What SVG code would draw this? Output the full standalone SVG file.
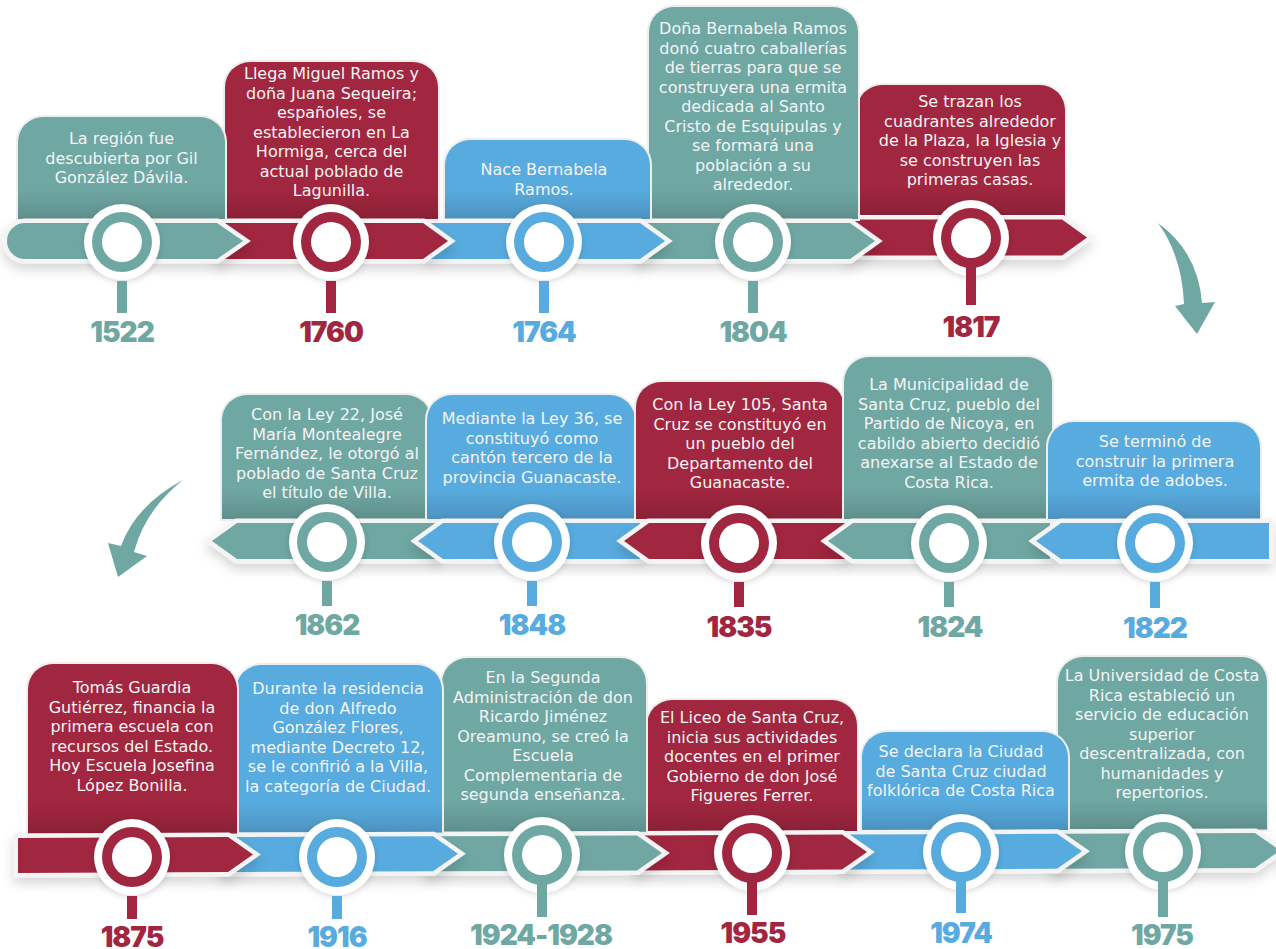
<svg xmlns="http://www.w3.org/2000/svg" width="1276" height="949" viewBox="0 0 1276 949">
<defs>
<style>
.teal{fill:#6FA7A3}
.crim{fill:#A1263F}
.blue{fill:#58ABDF}
.card{stroke:#EEEEEE;stroke-width:4;paint-order:stroke}
.bar{stroke:#F4F4F4;stroke-width:9;paint-order:stroke;stroke-linejoin:miter;filter:url(#barsh)}
.ring{fill:#FFFFFF;filter:url(#ringsh)}
.hole{fill:#FFFFFF}
.desc{font-family:"DejaVu Sans",Verdana,sans-serif;font-size:16px;fill:#F4F4F4;text-anchor:middle}
.year{font-family:Inter,"Liberation Sans",sans-serif;font-weight:900;font-size:28px;letter-spacing:-1px;text-anchor:middle}
.shade{fill:url(#shade)}
</style>
<linearGradient id="shade" x1="0" y1="0" x2="0" y2="1">
<stop offset="0" stop-color="#000" stop-opacity="0"/>
<stop offset="1" stop-color="#000" stop-opacity="0.14"/>
</linearGradient>
<filter id="barsh" x="-10%" y="-50%" width="120%" height="220%">
<feDropShadow dx="0" dy="6" stdDeviation="6" flood-color="#000" flood-opacity="0.16"/>
</filter>
<filter id="ringsh" x="-50%" y="-50%" width="200%" height="200%">
<feDropShadow dx="0" dy="2" stdDeviation="3" flood-color="#000" flood-opacity="0.15"/>
</filter>
</defs>
<rect width="1276" height="949" fill="#FFFFFF"/>

<!-- Row 1 (drawn latest first) -->
<g id="n1817">
<path class="card crim" d="M857,215.5 V110 A25,25 0 0 1 882,85 H1040 A25,25 0 0 1 1065,110 V215.5 Z"/>
<rect class="shade" x="857" y="186" width="208" height="30"/>
<text class="desc"><tspan x="970" y="107">Se trazan los</tspan><tspan x="970" y="126.5">cuadrantes alrededor</tspan><tspan x="970" y="146">de la Plaza, la Iglesia y</tspan><tspan x="970" y="165.5">se construyen las</tspan><tspan x="970" y="185">primeras casas.</tspan></text>
<path class="bar crim" d="M850,219.5 H1062 L1087,237.5 L1062,255.5 H850 Z"/>
<circle class="ring" cx="971" cy="238" r="38"/>
<circle class="crim" cx="971" cy="238" r="30"/>
<circle class="hole" cx="971" cy="238" r="20"/>
<rect class="crim" x="966" y="266" width="10" height="39"/>
<text class="year crim" x="971" y="337">1817</text>
</g>
<g id="n1804">
<path class="card teal" d="M649,219 V32 A25,25 0 0 1 674,7 H833 A25,25 0 0 1 858,32 V219 Z"/>
<rect class="shade" x="649" y="189" width="209" height="30"/>
<text class="desc"><tspan x="753" y="34">Doña Bernabela Ramos</tspan><tspan x="753" y="53.5">donó cuatro caballerías</tspan><tspan x="753" y="73">de tierras para que se</tspan><tspan x="753" y="92.5">construyera una ermita</tspan><tspan x="753" y="112">dedicada al Santo</tspan><tspan x="753" y="131.5">Cristo de Esquipulas y</tspan><tspan x="753" y="151">se formará una</tspan><tspan x="753" y="170.5">población a su</tspan><tspan x="753" y="190">alrededor.</tspan></text>
<path class="bar teal" d="M640,223 H850 L875,241 L850,259 H640 Z"/>
<circle class="ring" cx="753" cy="242" r="38"/>
<circle class="teal" cx="753" cy="242" r="30"/>
<circle class="hole" cx="753" cy="242" r="20"/>
<rect class="teal" x="748" y="281" width="10" height="32"/>
<text class="year teal" x="753" y="342">1804</text>
</g>
<g id="n1764">
<path class="card blue" d="M445,219 V165 A25,25 0 0 1 470,140 H625 A25,25 0 0 1 650,165 V219 Z"/>
<rect class="shade" x="445" y="189" width="205" height="30"/>
<text class="desc"><tspan x="544" y="175">Nace Bernabela</tspan><tspan x="544" y="194.5">Ramos.</tspan></text>
<path class="bar blue" d="M430,223 H640 L665,241 L640,259 H430 Z"/>
<circle class="ring" cx="544" cy="242" r="38"/>
<circle class="blue" cx="544" cy="242" r="30"/>
<circle class="hole" cx="544" cy="242" r="20"/>
<rect class="blue" x="539" y="281" width="10" height="32"/>
<text class="year blue" x="544" y="342">1764</text>
</g>
<g id="n1760">
<path class="card crim" d="M225,219 V87 A25,25 0 0 1 250,62 H413 A25,25 0 0 1 438,87 V219 Z"/>
<rect class="shade" x="225" y="189" width="213" height="30"/>
<text class="desc"><tspan x="331.5" y="79">Llega Miguel Ramos y</tspan><tspan x="331.5" y="98.5">doña Juana Sequeira;</tspan><tspan x="331.5" y="118">españoles, se</tspan><tspan x="331.5" y="137.5">establecieron en La</tspan><tspan x="331.5" y="157">Hormiga, cerca del</tspan><tspan x="331.5" y="176.5">actual poblado de</tspan><tspan x="331.5" y="196">Lagunilla.</tspan></text>
<path class="bar crim" d="M220,223 H423 L448,241 L423,259 H220 Z"/>
<circle class="ring" cx="331" cy="242" r="38"/>
<circle class="crim" cx="331" cy="242" r="30"/>
<circle class="hole" cx="331" cy="242" r="20"/>
<rect class="crim" x="326" y="281" width="10" height="32"/>
<text class="year crim" x="331" y="342">1760</text>
</g>
<g id="n1522">
<path class="card teal" d="M18,219 V142 A25,25 0 0 1 43,117 H200 A25,25 0 0 1 225,142 V219 Z"/>
<rect class="shade" x="18" y="189" width="207" height="30"/>
<text class="desc"><tspan x="121.5" y="144">La región fue</tspan><tspan x="121.5" y="163.5">descubierta por Gil</tspan><tspan x="121.5" y="183">González Dávila.</tspan></text>
<path class="bar teal" d="M25,223 H217 L243,241 L217,259 H25 A18,18 0 0 1 25,223 Z"/>
<circle class="ring" cx="122" cy="242" r="38"/>
<circle class="teal" cx="122" cy="242" r="30"/>
<circle class="hole" cx="122" cy="242" r="20"/>
<rect class="teal" x="117" y="281" width="10" height="32"/>
<text class="year teal" x="122" y="342">1522</text>
</g>

<!-- Row 2 -->
<g id="n1862">
<path class="card teal" d="M222,519 V420 A25,25 0 0 1 247,395 H406 A25,25 0 0 1 431,420 V519 Z"/>
<rect class="shade" x="222" y="489" width="209" height="30"/>
<text class="desc"><tspan x="327" y="420">Con la Ley 22, José</tspan><tspan x="327" y="439.5">María Montealegre</tspan><tspan x="327" y="459">Fernández, le otorgó al</tspan><tspan x="327" y="478.5">poblado de Santa Cruz</tspan><tspan x="327" y="498">el título de Villa.</tspan></text>
<path class="bar teal" d="M212,541 L237,523 H436 V559 H237 Z"/>
<circle class="ring" cx="327" cy="542" r="38"/>
<circle class="teal" cx="327" cy="542" r="30"/>
<circle class="hole" cx="327" cy="542" r="20"/>
<rect class="teal" x="322" y="581" width="10" height="25"/>
<text class="year teal" x="327" y="635">1862</text>
</g>
<g id="n1848">
<path class="card blue" d="M427,519 V420 A25,25 0 0 1 452,395 H610 A25,25 0 0 1 635,420 V519 Z"/>
<rect class="shade" x="427" y="489" width="208" height="30"/>
<text class="desc"><tspan x="532" y="424">Mediante la Ley 36, se</tspan><tspan x="532" y="443.5">constituyó como</tspan><tspan x="532" y="463">cantón tercero de la</tspan><tspan x="532" y="482.5">provincia Guanacaste.</tspan></text>
<path class="bar blue" d="M418,541 L443,523 H640 V559 H443 Z"/>
<circle class="ring" cx="532" cy="542" r="38"/>
<circle class="blue" cx="532" cy="542" r="30"/>
<circle class="hole" cx="532" cy="542" r="20"/>
<rect class="blue" x="527" y="581" width="10" height="25"/>
<text class="year blue" x="532" y="635">1848</text>
</g>
<g id="n1835">
<path class="card crim" d="M636,519 V407 A25,25 0 0 1 661,382 H819 A25,25 0 0 1 844,407 V519 Z"/>
<rect class="shade" x="636" y="489" width="208" height="30"/>
<text class="desc"><tspan x="740" y="410">Con la Ley 105, Santa</tspan><tspan x="740" y="429.5">Cruz se constituyó en</tspan><tspan x="740" y="449">un pueblo del</tspan><tspan x="740" y="468.5">Departamento del</tspan><tspan x="740" y="488">Guanacaste.</tspan></text>
<path class="bar crim" d="M624,541 L649,523 H845 V559 H649 Z"/>
<circle class="ring" cx="739" cy="543" r="38"/>
<circle class="crim" cx="739" cy="543" r="30"/>
<circle class="hole" cx="739" cy="543" r="20"/>
<rect class="crim" x="734" y="582" width="10" height="25"/>
<text class="year crim" x="739" y="637">1835</text>
</g>
<g id="n1824">
<path class="card teal" d="M844,519 V382 A25,25 0 0 1 869,357 H1027 A25,25 0 0 1 1052,382 V519 Z"/>
<rect class="shade" x="844" y="489" width="208" height="30"/>
<text class="desc"><tspan x="949" y="390">La Municipalidad de</tspan><tspan x="949" y="409.5">Santa Cruz, pueblo del</tspan><tspan x="949" y="429">Partido de Nicoya, en</tspan><tspan x="949" y="448.5">cabildo abierto decidió</tspan><tspan x="949" y="468">anexarse al Estado de</tspan><tspan x="949" y="487.5">Costa Rica.</tspan></text>
<path class="bar teal" d="M828,541 L853,523 H1050 V559 H853 Z"/>
<circle class="ring" cx="949" cy="543" r="38"/>
<circle class="teal" cx="949" cy="543" r="30"/>
<circle class="hole" cx="949" cy="543" r="20"/>
<rect class="teal" x="944" y="582" width="10" height="25"/>
<text class="year teal" x="950" y="637">1824</text>
</g>
<g id="n1822">
<path class="card blue" d="M1048,519 V447 A25,25 0 0 1 1073,422 H1235 A25,25 0 0 1 1260,447 V519 Z"/>
<rect class="shade" x="1048" y="489" width="212" height="30"/>
<text class="desc"><tspan x="1155" y="447">Se terminó de</tspan><tspan x="1155" y="466.5">construir la primera</tspan><tspan x="1155" y="486">ermita de adobes.</tspan></text>
<path class="bar blue" d="M1036,541 L1061,523 H1269 V559 H1061 Z"/>
<circle class="ring" cx="1155" cy="543" r="38"/>
<circle class="blue" cx="1155" cy="543" r="30"/>
<circle class="hole" cx="1155" cy="543" r="20"/>
<rect class="blue" x="1150" y="582" width="10" height="26"/>
<text class="year blue" x="1155" y="638">1822</text>
</g>

<!-- Row 3 (drawn latest first) -->
<g id="n1975">
<path class="card teal" d="M1058,829.4 V682 A25,25 0 0 1 1083,657 H1242 A25,25 0 0 1 1267,682 V829.4 Z"/>
<rect class="shade" x="1058" y="799.4" width="209" height="30"/>
<text class="desc"><tspan x="1162" y="681">La Universidad de Costa</tspan><tspan x="1162" y="700.5">Rica estableció un</tspan><tspan x="1162" y="720">servicio de educación</tspan><tspan x="1162" y="739.5">superior</tspan><tspan x="1162" y="759">descentralizada, con</tspan><tspan x="1162" y="778.5">humanidades y</tspan><tspan x="1162" y="798">repertorios.</tspan></text>
<path class="bar teal" d="M1055,833.8 L1255,833 L1280,850.4 L1255,868 L1055,868.8 Z"/>
<circle class="ring" cx="1163" cy="852" r="38"/>
<circle class="teal" cx="1163" cy="852" r="30"/>
<circle class="hole" cx="1163" cy="852" r="20"/>
<rect class="teal" x="1158" y="880" width="10" height="37"/>
<text class="year teal" x="1162" y="945">1975</text>
</g>
<g id="n1974">
<path class="card blue" d="M862,830 V757 A25,25 0 0 1 887,732 H1043 A25,25 0 0 1 1068,757 V830 Z"/>
<rect class="shade" x="862" y="800" width="206" height="30"/>
<text class="desc"><tspan x="961" y="757">Se declara la Ciudad</tspan><tspan x="961" y="776.5">de Santa Cruz ciudad</tspan><tspan x="961" y="796">folklórica de Costa Rica</tspan></text>
<path class="bar blue" d="M845,834.6 L1057,833.8 L1082,851.2 L1057,868.8 L845,869.6 Z"/>
<circle class="ring" cx="961" cy="852" r="38"/>
<circle class="blue" cx="961" cy="852" r="30"/>
<circle class="hole" cx="961" cy="852" r="20"/>
<rect class="blue" x="956" y="880" width="10" height="33"/>
<text class="year blue" x="961" y="943">1974</text>
</g>
<g id="n1955">
<path class="card crim" d="M647,831 V725 A25,25 0 0 1 672,700 H832 A25,25 0 0 1 857,725 V831 Z"/>
<rect class="shade" x="647" y="801" width="210" height="30"/>
<text class="desc"><tspan x="752" y="723">El Liceo de Santa Cruz,</tspan><tspan x="752" y="742.5">inicia sus actividades</tspan><tspan x="752" y="762">docentes en el primer</tspan><tspan x="752" y="781.5">Gobierno de don José</tspan><tspan x="752" y="801">Figueres Ferrer.</tspan></text>
<path class="bar crim" d="M640,835.4 L842,834.6 L867,852 L842,869.6 L640,870.4 Z"/>
<circle class="ring" cx="752" cy="853" r="38"/>
<circle class="crim" cx="752" cy="853" r="30"/>
<circle class="hole" cx="752" cy="853" r="20"/>
<rect class="crim" x="747" y="881" width="10" height="34"/>
<text class="year crim" x="753" y="943">1955</text>
</g>
<g id="n1924">
<path class="card teal" d="M442,831.8 V683 A25,25 0 0 1 467,658 H621 A25,25 0 0 1 646,683 V831.8 Z"/>
<rect class="shade" x="442" y="801.8" width="204" height="30"/>
<text class="desc"><tspan x="543" y="683">En la Segunda</tspan><tspan x="543" y="702.5">Administración de don</tspan><tspan x="543" y="722">Ricardo Jiménez</tspan><tspan x="543" y="741.5">Oreamuno, se creó la</tspan><tspan x="543" y="761">Escuela</tspan><tspan x="543" y="780.5">Complementaria de</tspan><tspan x="543" y="800">segunda enseñanza.</tspan></text>
<path class="bar teal" d="M430,836.3 L637,835.5 L662,852.9 L637,870.5 L430,871.3 Z"/>
<circle class="ring" cx="542" cy="855" r="38"/>
<circle class="teal" cx="542" cy="855" r="30"/>
<circle class="hole" cx="542" cy="855" r="20"/>
<rect class="teal" x="537" y="883" width="10" height="34"/>
<text class="year teal" x="541" y="945">1924-1928</text>
</g>
<g id="n1916">
<path class="card blue" d="M236,832.6 V690 A25,25 0 0 1 261,665 H417 A25,25 0 0 1 442,690 V832.6 Z"/>
<rect class="shade" x="236" y="802.6" width="206" height="30"/>
<text class="desc"><tspan x="338" y="694">Durante la residencia</tspan><tspan x="338" y="713.5">de don Alfredo</tspan><tspan x="338" y="733">González Flores,</tspan><tspan x="338" y="752.5">mediante Decreto 12,</tspan><tspan x="338" y="772">se le confirió a la Villa,</tspan><tspan x="338" y="791.5">la categoría de Ciudad.</tspan></text>
<path class="bar blue" d="M225,837.1 L433,836.3 L458,853.7 L433,871.3 L225,872.1 Z"/>
<circle class="ring" cx="337" cy="857" r="38"/>
<circle class="blue" cx="337" cy="857" r="30"/>
<circle class="hole" cx="337" cy="857" r="20"/>
<rect class="blue" x="332" y="896" width="10" height="23"/>
<text class="year blue" x="337" y="947">1916</text>
</g>
<g id="n1875">
<path class="card crim" d="M28,833.5 V689 A25,25 0 0 1 53,664 H212 A25,25 0 0 1 237,689 V833.5 Z"/>
<rect class="shade" x="28" y="803.5" width="209" height="30"/>
<text class="desc"><tspan x="132" y="693">Tomás Guardia</tspan><tspan x="132" y="712.5">Gutiérrez, financia la</tspan><tspan x="132" y="732">primera escuela con</tspan><tspan x="132" y="751.5">recursos del Estado.</tspan><tspan x="132" y="771">Hoy Escuela Josefina</tspan><tspan x="132" y="790.5">López Bonilla.</tspan></text>
<path class="bar crim" d="M18,837.9 L228,837.1 L253,854.5 L228,872.1 L18,872.9 Z"/>
<circle class="ring" cx="132" cy="857" r="38"/>
<circle class="crim" cx="132" cy="857" r="30"/>
<circle class="hole" cx="132" cy="857" r="20"/>
<rect class="crim" x="127" y="896" width="10" height="23"/>
<text class="year crim" x="132" y="947">1875</text>
</g>

<g id="connectors">
<path class="teal" d="M1158,223 Q1198,252 1202,303 L1215,302 L1197,334 L1175,306 L1184,304 Q1182,256 1158,223 Z"/>
<path class="teal" d="M183,480 Q136,505 121,546 L108,543 L118,577 L147,556 L134,552 Q145,510 183,480 Z"/>
</g>
</svg>
